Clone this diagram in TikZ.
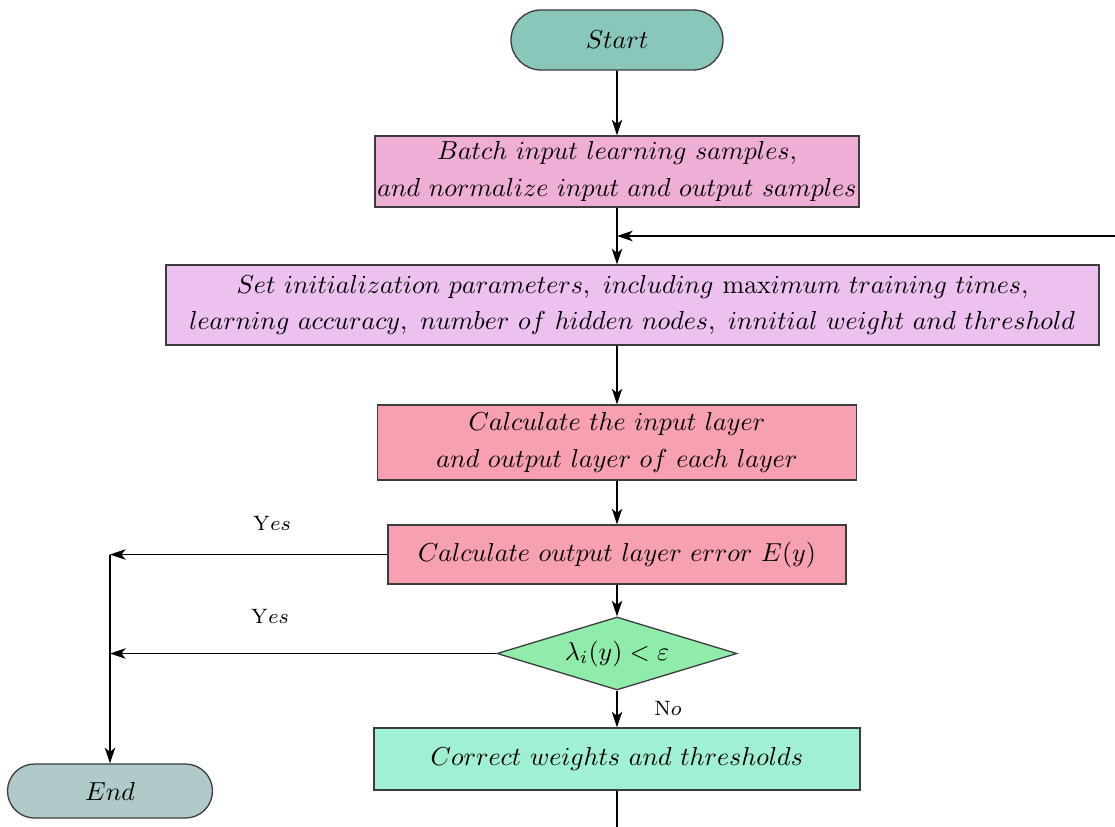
\documentclass[tikz,border=0pt]{standalone}
\usetikzlibrary{shapes.geometric,shapes.misc,arrows.meta}

\definecolor{cstart}{RGB}{137,199,187}
\definecolor{cend}{RGB}{176,202,201}
\definecolor{cbatch}{RGB}{239,174,214}
\definecolor{cinit}{RGB}{236,193,240}
\definecolor{ccalc}{RGB}{247,160,177}
\definecolor{cdec}{RGB}{143,236,170}
\definecolor{ccorr}{RGB}{160,240,211}
\definecolor{cedge}{RGB}{60,60,60}

% one drawing unit in pt
\newcommand\pxl[1]{#1*0.3846pt}

\tikzset{
  txt/.style={font=\fontsize{10}{14.2}\selectfont, align=center, inner sep=0pt},
  procbox/.style={txt, draw=cedge, line width=0.5pt, rectangle},
  termbox/.style={txt, draw=cedge, line width=0.5pt, rounded rectangle},
  decbox/.style={txt, draw=cedge, line width=0.5pt, diamond, aspect=3.3},
  flow/.style={line width=0.65pt, -{Stealth[length=6pt,width=4pt,inset=1.6pt]}},
  plain/.style={line width=0.65pt},
  lbl/.style={font=\fontsize{8}{10}\selectfont, inner sep=0pt}
}

\begin{document}
\begin{tikzpicture}[x=0.3846pt,y=-0.3846pt]
  \useasboundingbox (0,0) rectangle (1115,827);

  \node[termbox, fill=cstart, minimum width=\pxl{212}, minimum height=\pxl{60}] (start) at (617,40) {$Start$};

  \node[procbox, fill=cbatch, minimum width=\pxl{484}, minimum height=\pxl{71}] (batch) at (617,171.5)
    {$Batch\ input\ learning\ samples,$\\$and\ normalize\ input\ and\ output\ samples$};

  \node[procbox, fill=cinit, minimum width=\pxl{933}, minimum height=\pxl{80}] (init) at (632.5,305)
    {$Set\ initialization\ parameters,\ including\ \mathrm{max}imum\ training\ times,$\\$learning\ accuracy,\ number\ of\ hidden\ nodes,\ innitial\ weight\ and\ threshold$};

  \node[procbox, fill=ccalc, minimum width=\pxl{479}, minimum height=\pxl{75}] (layer) at (617,442.5)
    {$Calculate\ the\ input\ layer$\\$and\ output\ layer\ of\ each\ layer$};

  \node[procbox, fill=ccalc, minimum width=\pxl{458}, minimum height=\pxl{59}] (err) at (617,554.5)
    {$Calculate\ output\ layer\ error\ E(y)$};

  \node[decbox, fill=cdec, minimum width=\pxl{240}, minimum height=\pxl{73}] (dec) at (617,653.5)
    {$\lambda_i(y) < \varepsilon$};

  \node[procbox, fill=ccorr, minimum width=\pxl{486}, minimum height=\pxl{62}] (corr) at (617,759)
    {$Correct\ weights\ and\ thresholds$};

  \node[termbox, fill=cend, minimum width=\pxl{205}, minimum height=\pxl{54}] (end) at (110,791) {$End$};

  % junction points of the connectors
  \coordinate (join) at (617,236);
  \coordinate (fb) at (1115,236);
  \coordinate (yes1) at (110,554.5);
  \coordinate (yes2) at (110,653.5);
  \coordinate (bot) at (617,827);

  % main flow
  \draw[flow] (start) -- (batch);
  \draw[plain] (batch.south) -- (join);
  \draw[flow] (join) -- (join |- init.north);
  \draw[flow] (fb) -- (join);
  \draw[flow] (init.south -| layer.north) -- (layer.north);
  \draw[flow] (layer) -- (err);
  \draw[flow] (err) -- (dec);
  \draw[flow] (dec) -- (corr);
  \draw[plain] (corr) -- (bot);

  % exits to the end
  \draw[flow] (err) -- (yes1);
  \draw[flow] (dec) -- (yes2);
  \draw[flow] (yes1) -- (end);

  % branch labels
  \node[lbl] (ly1) at (272,523) {$\mathrm{Y}es$};
  \node[lbl] (ly2) at (270,616) {$\mathrm{Y}es$};
  \node[lbl] (ln) at (668,708) {$\mathrm{N}o$};
\end{tikzpicture}
\end{document}
